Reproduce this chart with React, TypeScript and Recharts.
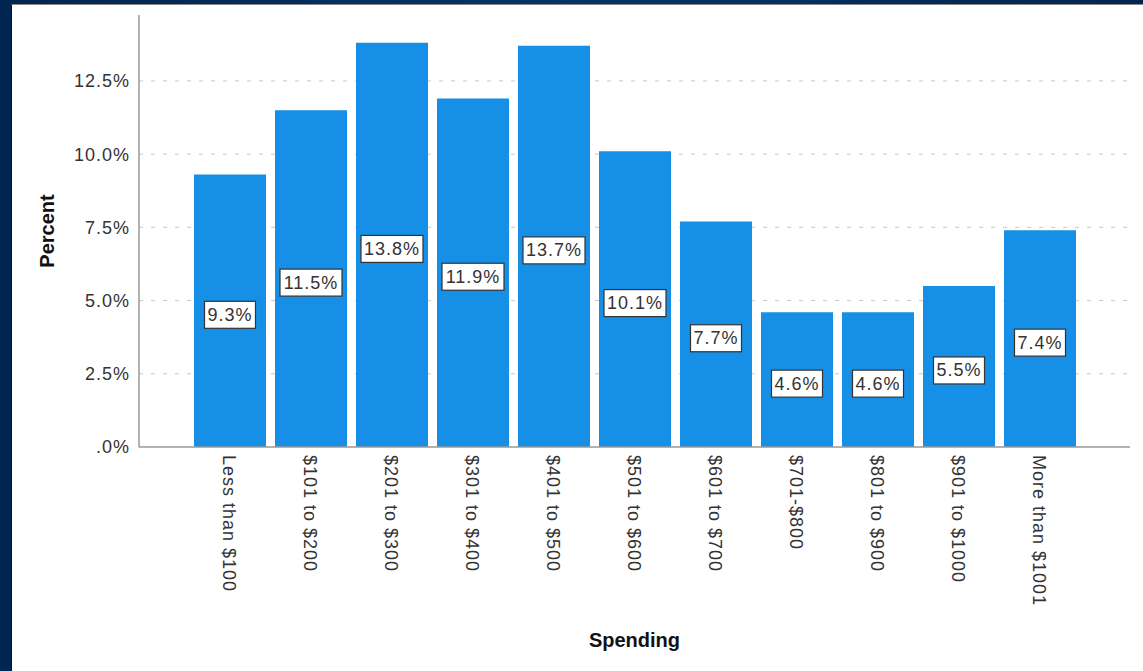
import { BarChart, Bar, XAxis, YAxis, CartesianGrid, Label, LabelList } from 'recharts';

const CATEGORIES = [
  'Less than $100',
  '$101 to $200',
  '$201 to $300',
  '$301 to $400',
  '$401 to $500',
  '$501 to $600',
  '$601 to $700',
  '$701-$800',
  '$801 to $900',
  '$901 to $1000',
  'More than $1001',
];
const PERCENTS = [9.3, 11.5, 13.8, 11.9, 13.7, 10.1, 7.7, 4.6, 4.6, 5.5, 7.4];
const Y_TICKS = [0, 2.5, 5, 7.5, 10, 12.5];

const data = CATEGORIES.map((name, i) => ({ name, percent: PERCENTS[i] }));

const FONT = '"Liberation Sans", Arial, sans-serif';
const BAR_COLOR = '#1590e6';

const fmtTick = (v: number) => (v === 0 ? '.0%' : `${v.toFixed(1)}%`);

// rough width of the label text at 18px with 1px spacing
const textWidth = (s: string) => {
  let w = 0;
  for (const c of s) {
    if (c === '.') w += 5;
    else if (c === '%') w += 16;
    else w += 10;
    w += 1;
  }
  return w;
};

function XTick(props: any) {
  const { x, y, payload } = props;
  return (
    <g transform={`translate(${x},${y})`}>
      <text
        transform="rotate(90)"
        x={0}
        y={0}
        dy="0.35em"
        textAnchor="start"
        fontFamily={FONT}
        fontSize={18}
        letterSpacing={1}
        fill="#333"
      >
        {payload.value}
      </text>
    </g>
  );
}

function ValueLabel(props: any) {
  const { x, y, width, height, value } = props;
  const label = `${Number(value).toFixed(1)}%`;
  const w = textWidth(label) + 6;
  const h = 27;
  const cx = x + width / 2;
  const cy = y + height / 2 + 4;
  return (
    <g>
      <rect x={cx - w / 2} y={cy - h / 2} width={w} height={h} fill="#fff" stroke="#333" strokeWidth={1.2} />
      <text
        x={cx}
        y={cy}
        textAnchor="middle"
        dominantBaseline="central"
        fontFamily={FONT}
        fontSize={18}
        letterSpacing={1}
        fill="#333"
      >
        {label}
      </text>
    </g>
  );
}

export default function App() {
  return (
    <div
      style={{
        position: 'fixed',
        left: 0,
        top: 0,
        width: 1143,
        height: 671,
        background: 'linear-gradient(90deg, #012550 0%, #063466 50%, #012550 100%)',
        overflow: 'hidden',
      }}
    >
      <div
        style={{
          position: 'absolute',
          left: 11,
          top: 4,
          width: 1132,
          height: 667,
          background: '#fff',
          borderLeft: '1px solid #111',
          borderTop: '1px solid #888',
          boxSizing: 'border-box',
        }}
      >
        <BarChart
          width={1131}
          height={666}
          data={data}
          margin={{ top: 10, right: 13, left: 0, bottom: 0 }}
          barSize={72}
        >
          <CartesianGrid
            vertical={false}
            horizontalValues={Y_TICKS.slice(1)}
            stroke="#c8c8c8"
            strokeDasharray="4 8"
          />
          <XAxis
            dataKey="name"
            height={224}
            interval={0}
            tickLine={false}
            tickSize={8}
            tickMargin={0}
            padding={{ left: 50, right: 50 }}
            axisLine={{ stroke: '#999', strokeWidth: 1.5 }}
            tick={<XTick />}
          >
            <Label
              content={({ viewBox }: any) => (
                <text
                  x={viewBox.x + viewBox.width / 2}
                  y={viewBox.y + 193}
                  textAnchor="middle"
                  dominantBaseline="central"
                  fontFamily={FONT}
                  fontSize={20}
                  fontWeight="bold"
                  fill="#111"
                >
                  Spending
                </text>
              )}
            />
          </XAxis>
          <YAxis
            width={127}
            domain={[0, 14.75]}
            ticks={Y_TICKS}
            tickFormatter={fmtTick}
            tickLine={false}
            tickSize={6}
            tickMargin={3}
            axisLine={{ stroke: '#999', strokeWidth: 1.5 }}
            tick={{ fontFamily: FONT, fontSize: 18, fill: '#333', letterSpacing: 1 }}
          >
            <Label
              content={({ viewBox }: any) => {
                const cx = 35;
                const cy = viewBox.y + viewBox.height / 2;
                return (
                  <text
                    x={cx}
                    y={cy}
                    transform={`rotate(-90, ${cx}, ${cy})`}
                    textAnchor="middle"
                    dominantBaseline="central"
                    fontFamily={FONT}
                    fontSize={20}
                    fontWeight="bold"
                    fill="#111"
                  >
                    Percent
                  </text>
                );
              }}
            />
          </YAxis>
          <Bar dataKey="percent" fill={BAR_COLOR} isAnimationActive={false}>
            <LabelList dataKey="percent" content={<ValueLabel />} />
          </Bar>
        </BarChart>
      </div>
    </div>
  );
}
